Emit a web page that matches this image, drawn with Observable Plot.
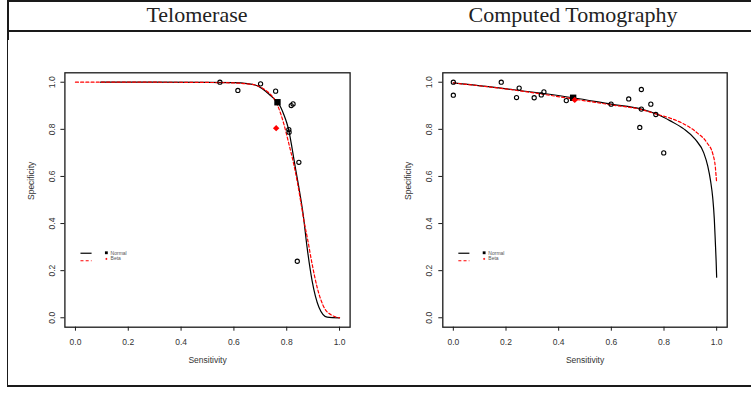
<!DOCTYPE html>
<html><head><meta charset="utf-8">
<script src="https://cdn.jsdelivr.net/npm/d3@7"></script>
<script src="https://cdn.jsdelivr.net/npm/@observablehq/plot@0.6"></script>
<style>
html,body{margin:0;padding:0;background:#fff;}
#root{position:relative;width:751px;height:393px;overflow:hidden;background:#fff;}
.frame{position:absolute;left:7px;top:0;width:800px;height:383px;border:2px solid #1a1a1a;}
.hline{position:absolute;left:7px;top:30px;width:800px;height:2px;background:#1a1a1a;}
.title{position:absolute;top:3.6px;width:300px;text-align:center;font-family:"Liberation Serif","Times New Roman",serif;font-size:22px;line-height:22px;color:#222;}
.panel{position:absolute;top:40px;}
</style></head>
<body><div id="root">
<div class="frame"></div><div class="hline"></div>
<div class="title" id="t1" style="left:47px"></div>
<div class="title" id="t2" style="left:423px"></div>
<div class="panel" id="p1" style="left:8px"></div>
<div class="panel" id="p2" style="left:383px"></div>
</div>
<script>
// ---------- data ----------
const panelTitles = ["Telomerase", "Computed Tomography"];
const xTitle = "Sensitivity";
const yTitle = "Specificity";
const xTicks = [0, 0.2, 0.4, 0.6, 0.8, 1.0];
const yTicks = [0, 0.2, 0.4, 0.6, 0.8, 1.0];
const legendLabels = ["Normal", "Beta"];

// Telomerase: study points
const telSens = [0.547, 0.615, 0.701, 0.758, 0.817, 0.824, 0.808, 0.809, 0.846, 0.840];
const telSpec = [1.000, 0.965, 0.993, 0.962, 0.901, 0.908, 0.799, 0.788, 0.660, 0.240];
const telNormalPt = [0.765, 0.915];
const telBetaPt = [0.760, 0.805];
// Telomerase: fitted curves
const telNormSens = [0.095, 0.30, 0.50, 0.60, 0.65, 0.68, 0.70, 0.72, 0.74, 0.752, 0.766, 0.779, 0.790, 0.800, 0.808, 0.821, 0.833, 0.845, 0.862, 0.877, 0.896, 0.922, 0.953, 1.0];
const telNormSpec = [1.000, 1.000, 0.999, 0.998, 0.994, 0.988, 0.978, 0.962, 0.942, 0.930, 0.915, 0.890, 0.860, 0.828, 0.795, 0.715, 0.635, 0.560, 0.441, 0.300, 0.158, 0.045, 0.003, 0.000];
const telBetaSens = [0.0, 0.30, 0.50, 0.60, 0.65, 0.688, 0.715, 0.739, 0.755, 0.766, 0.789, 0.808, 0.827, 0.842, 0.855, 0.865, 0.880, 0.896, 0.915, 0.941, 0.972, 1.0];
const telBetaSpec = [1.000, 1.000, 0.999, 0.997, 0.993, 0.986, 0.970, 0.948, 0.925, 0.900, 0.823, 0.739, 0.650, 0.565, 0.480, 0.413, 0.328, 0.229, 0.130, 0.045, 0.010, 0.000];

// Computed Tomography: study points
const ctSens = [0.000, 0.000, 0.182, 0.250, 0.240, 0.307, 0.334, 0.344, 0.429, 0.599, 0.666, 0.714, 0.714, 0.750, 0.769, 0.708, 0.799];
const ctSpec = [1.000, 0.945, 1.000, 0.975, 0.935, 0.934, 0.946, 0.959, 0.922, 0.907, 0.929, 0.969, 0.886, 0.907, 0.863, 0.808, 0.700];
const ctNormalPt = [0.455, 0.934];
const ctBetaPt = [0.461, 0.925];
const ctNormSens = [0.000, 0.230, 0.455, 0.599, 0.714, 0.769, 0.824, 0.875, 0.919, 0.951, 0.966, 0.977, 0.985, 0.991, 0.995, 0.998, 1.000];
const ctNormSpec = [0.997, 0.968, 0.934, 0.907, 0.886, 0.866, 0.836, 0.802, 0.757, 0.700, 0.645, 0.580, 0.510, 0.420, 0.320, 0.240, 0.172];
const ctBetaSens = [0.000, 0.230, 0.461, 0.599, 0.714, 0.774, 0.824, 0.875, 0.926, 0.964, 0.986, 0.995, 0.998, 1.000];
const ctBetaSpec = [0.997, 0.967, 0.928, 0.904, 0.884, 0.864, 0.847, 0.823, 0.785, 0.742, 0.693, 0.639, 0.600, 0.575];

// ---------- layout ----------
const legendPos = {lx1: 0.019, lx2: 0.061, yNorm: 0.274, yBeta: 0.242, symX: 0.117, symYNorm: 0.276, symYBeta: 0.25, textX: 0.133, textYNorm: 0.274, textYBeta: 0.252};

const zip = (a, b) => a.map((v, i) => ({x: v, y: b[i]}));

function panel(o) {
  const L = legendPos;
  return Plot.plot({
    width: o.width, height: 345,
    marginLeft: o.ml, marginRight: o.mr, marginTop: 32.3, marginBottom: 58.3,
    x: {domain: [-0.04, 1.04]},
    y: {domain: [-0.04, 1.04]},
    style: {fontFamily: "'Liberation Sans', Arial, sans-serif", fontSize: "8.5px", color: "#333", background: "white", overflow: "visible"},
    marks: [
      Plot.frame({stroke: "#1a1a1a", strokeWidth: 1.3}),
      Plot.axisX({ticks: xTicks, tickSize: 4, tickPadding: 7.5, tickFormat: d3.format(".1f"), label: null, stroke: "#1a1a1a"}),
      Plot.axisY({ticks: yTicks, tickSize: 4, tickPadding: o.ytp, tickRotate: -90, tickFormat: d3.format(".1f"), label: null, stroke: "#1a1a1a"}),
      Plot.text([xTitle], {text: d => d, frameAnchor: "bottom", dy: 35.5, fill: "#333"}),
      Plot.text([yTitle], {text: d => d, frameAnchor: "left", dx: o.ytd, rotate: -90, fill: "#333"}),
      Plot.line(zip(o.nS, o.nP), {x: "x", y: "y", curve: "monotone-x", stroke: "#000", strokeWidth: 1.2}),
      Plot.line(zip(o.bS, o.bP), {x: "x", y: "y", curve: "monotone-x", stroke: "#ff0000", strokeWidth: 1.2, strokeDasharray: "3,2.2"}),
      Plot.dot(zip(o.pS, o.pP), {x: "x", y: "y", r: 2.1, stroke: "#000", strokeWidth: 1.1, fill: "none"}),
      Plot.dot([o.normal], {x: d => d[0], y: d => d[1], symbol: "square", fill: "#000", r: 3.6}),
      Plot.dot([o.beta], {x: d => d[0], y: d => d[1], symbol: "diamond2", fill: "#ff0000", r: 2.9}),
      // legend
      Plot.link([L], {x1: "lx1", x2: "lx2", y1: "yNorm", y2: "yNorm", stroke: "#000", strokeWidth: 1.2}),
      Plot.link([L], {x1: "lx1", x2: "lx2", y1: "yBeta", y2: "yBeta", stroke: "#ff0000", strokeWidth: 1.2, strokeDasharray: "3,2.2"}),
      Plot.dot([L], {x: "symX", y: "symYNorm", symbol: "square", fill: "#000", r: 1.6}),
      Plot.dot([L], {x: "symX", y: "symYBeta", symbol: "diamond2", fill: "#ff0000", r: 1.1}),
      Plot.text([legendLabels[0]], {text: d => d, x: () => L.textX, y: () => L.textYNorm, textAnchor: "start", fontSize: 5, fill: "#555"}),
      Plot.text([legendLabels[1]], {text: d => d, x: () => L.textX, y: () => L.textYBeta, textAnchor: "start", fontSize: 5, fill: "#555"})
    ]
  });
}

document.getElementById("t1").textContent = panelTitles[0];
document.getElementById("t2").textContent = panelTitles[1];

document.getElementById("p1").appendChild(panel({
  width: 375, ml: 56.4, mr: 33.4, ytp: 6, ytd: -33.7,
  nS: telNormSens, nP: telNormSpec, bS: telBetaSens, bP: telBetaSpec,
  pS: telSens, pP: telSpec, normal: telNormalPt, beta: telBetaPt
}));
document.getElementById("p2").appendChild(panel({
  width: 368, ml: 59.3, mr: 24.3, ytp: 7, ytd: -34.3,
  nS: ctNormSens, nP: ctNormSpec, bS: ctBetaSens, bP: ctBetaSpec,
  pS: ctSens, pP: ctSpec, normal: ctNormalPt, beta: ctBetaPt
}));
</script>
</body></html>
